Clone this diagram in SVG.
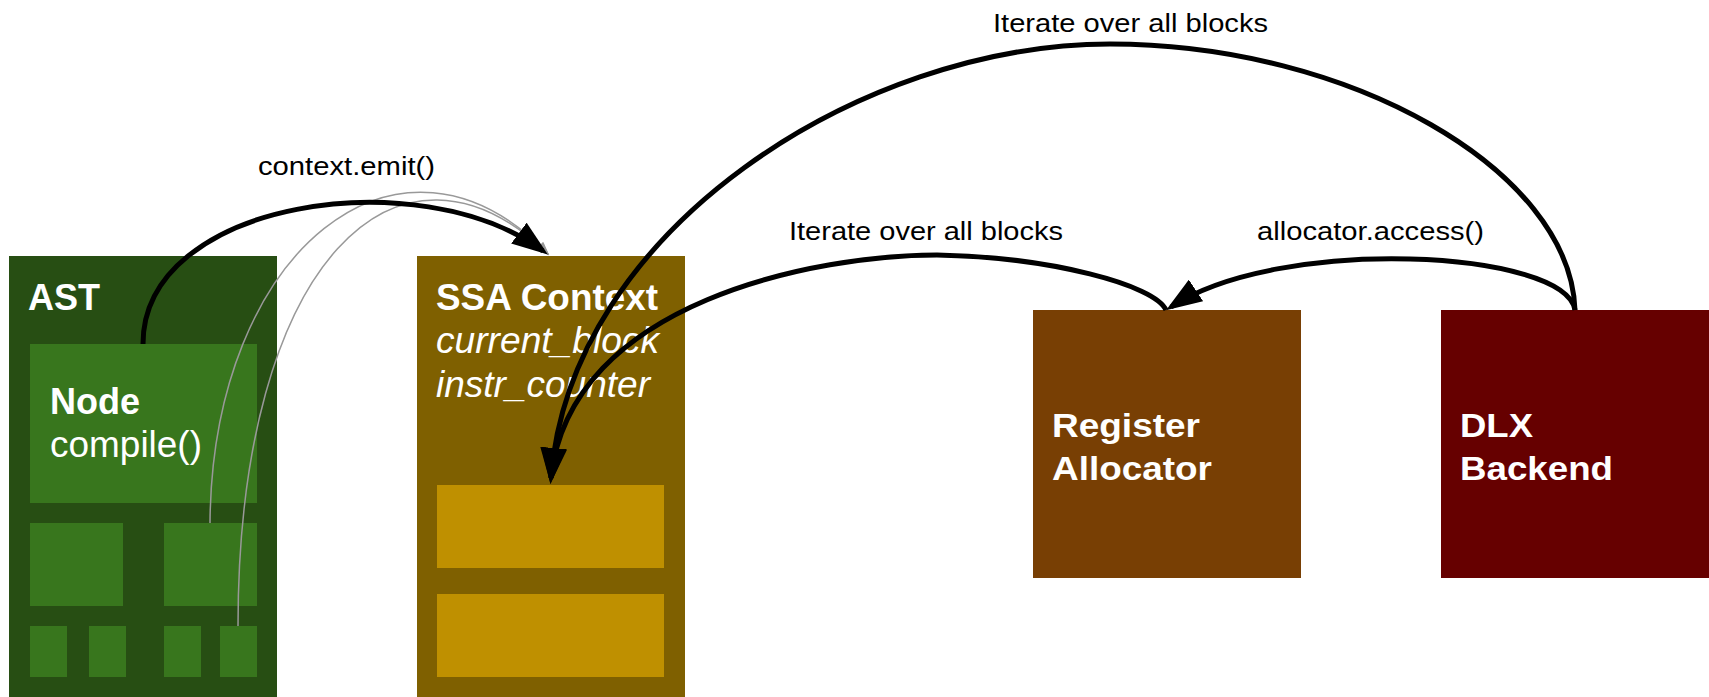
<svg xmlns="http://www.w3.org/2000/svg" width="1709" height="697" viewBox="0 0 1709 697">
<style>
.lbl{font-family:"Liberation Sans",Arial,sans-serif;font-size:25px;fill:#000}
.bt{font-family:"Liberation Sans",Arial,sans-serif;font-weight:bold;fill:#fff}
.rt{font-family:"Liberation Sans",Arial,sans-serif;fill:#fff;font-size:36px}
.it{font-style:italic}
.thick{fill:none;stroke:#000;stroke-width:5}
.thin{fill:none;stroke:#999;stroke-width:1.5}
</style>
<defs>
<marker id="ah" markerUnits="userSpaceOnUse" markerWidth="36" markerHeight="26" viewBox="0 0 36 26" refX="30" refY="13" orient="auto"><path d="M0,0 L36,13 L0,26 z" fill="#000"/></marker>
<marker id="ahg" markerUnits="userSpaceOnUse" markerWidth="14" markerHeight="10" viewBox="0 0 14 10" refX="12" refY="5" orient="auto"><path d="M0,0 L14,5 L0,10 z" fill="#999"/></marker>
</defs>
<rect width="1709" height="697" fill="#fff"/>
<g id="ast">
<rect x="9" y="256" width="268" height="441" fill="#274e13"/>
<text class="bt" x="28" y="310" font-size="36">AST</text>
</g>
<g id="node">
<rect x="30" y="344" width="227" height="159" fill="#38761d"/>
<text class="bt" x="50" y="414" font-size="36">Node</text>
<text class="rt" x="50" y="457" textLength="152" lengthAdjust="spacingAndGlyphs">compile()</text>
</g>
<g id="ast-children" fill="#38761d">
<rect x="30" y="523" width="93" height="83"/>
<rect x="164" y="523" width="93" height="83"/>
<rect x="30" y="626" width="37" height="51"/>
<rect x="89" y="626" width="37" height="51"/>
<rect x="164" y="626" width="37" height="51"/>
<rect x="220" y="626" width="37" height="51"/>
</g>
<g id="ssa">
<rect x="417" y="256" width="268" height="441" fill="#7f6000"/>
<rect x="437" y="485" width="227" height="83" fill="#bf9000"/>
<rect x="437" y="594" width="227" height="83" fill="#bf9000"/>
<text class="bt" x="436" y="310" font-size="36" textLength="222" lengthAdjust="spacingAndGlyphs">SSA Context</text>
<text class="rt it" x="436" y="353" textLength="223" lengthAdjust="spacingAndGlyphs">current_block</text>
<text class="rt it" x="436" y="397" textLength="214" lengthAdjust="spacingAndGlyphs">instr_counter</text>
</g>
<g id="regalloc">
<rect x="1033" y="310" width="268" height="268" fill="#783f04"/>
<text class="bt" x="1052" y="437" font-size="33" textLength="148" lengthAdjust="spacingAndGlyphs">Register</text>
<text class="bt" x="1052" y="480" font-size="33" textLength="160" lengthAdjust="spacingAndGlyphs">Allocator</text>
</g>
<g id="dlx">
<rect x="1441" y="310" width="268" height="268" fill="#660000"/>
<text class="bt" x="1460" y="437" font-size="33" textLength="73" lengthAdjust="spacingAndGlyphs">DLX</text>
<text class="bt" x="1460" y="480" font-size="33" textLength="153" lengthAdjust="spacingAndGlyphs">Backend</text>
</g>
<g id="connectors">
<path class="thin" d="M210,523 C212,250 400,100 548,254" marker-end="url(#ahg)"/>
<path class="thin" d="M238,626 C238,260 400,110 548,254" marker-end="url(#ahg)"/>
<path class="thick" d="M143,344 C143,200 420,160 543,251" marker-end="url(#ah)"/>
<path class="thick" d="M1166,310 C1155,285 1050,257 937,255 C820,255 570,300 551,478" marker-end="url(#ah)"/>
<path class="thick" d="M1575,310 C1570,170 1350,44 1110,44 C860,44 570,230 551,478" marker-end="url(#ah)"/>
<path class="thick" d="M1575,310 C1565,250 1280,235 1171,307" marker-end="url(#ah)"/>
<text class="lbl" x="258" y="175" textLength="177" lengthAdjust="spacingAndGlyphs">context.emit()</text>
<text class="lbl" x="993" y="32" textLength="275" lengthAdjust="spacingAndGlyphs">Iterate over all blocks</text>
<text class="lbl" x="789" y="240" textLength="274" lengthAdjust="spacingAndGlyphs">Iterate over all blocks</text>
<text class="lbl" x="1257" y="240" textLength="227" lengthAdjust="spacingAndGlyphs">allocator.access()</text>
</g>
</svg>
